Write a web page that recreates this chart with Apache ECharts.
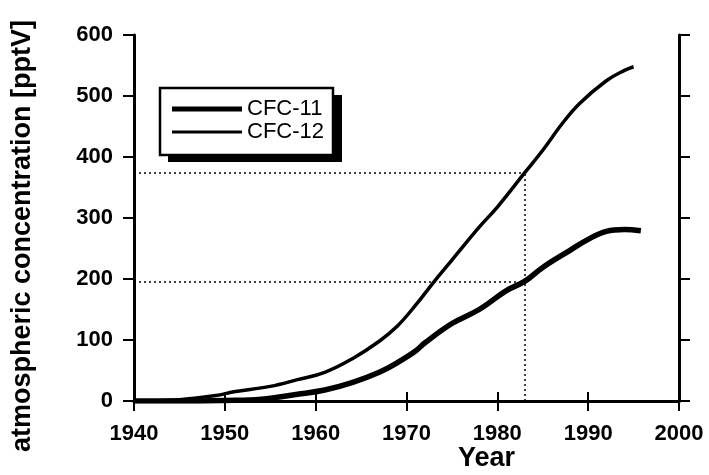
<!DOCTYPE html>
<html>
<head>
<meta charset="utf-8">
<script src="https://cdn.jsdelivr.net/npm/echarts@6/dist/echarts.min.js"></script>
<style>
html,body{margin:0;padding:0;background:#fff;}
#chart{width:709px;height:475px;}
</style>
</head>
<body>
<div id="chart"></div>
<script>
// ---- data ----
const seriesNames = ['CFC-11', 'CFC-12'];
const cfc11Years = [1940, 1945, 1950, 1954, 1958, 1961, 1964, 1967, 1969, 1971, 1972, 1975, 1978, 1981, 1983, 1985, 1988, 1990, 1992, 1994, 1995.8];
const cfc11Values = [0, 0, 1, 3, 11, 18, 30, 47, 63, 82, 95, 127, 150, 181, 196, 219, 247, 265, 278, 281, 279];
const cfc12Years = [1940, 1945, 1949, 1951, 1955, 1958, 1961, 1964, 1967, 1969, 1971, 1973, 1975, 1978, 1980, 1983, 1985, 1987, 1989, 1992, 1994, 1995];
const cfc12Values = [0, 2, 9, 15, 24, 35, 47, 69, 98, 123, 157, 195, 231, 285, 318, 374, 411, 452, 487, 525, 542, 548];
const refYear = 1983;
const refLevels = [375, 195];   // CFC-12, CFC-11 at refYear
const xRange = [1940, 2000];
const yRange = [0, 600];
const xStep = 10;
const yStep = 100;

const pairs = (xs, ys) => xs.map((x, i) => [x, ys[i]]);

const FONT = 'Liberation Sans, Arial, sans-serif';
const AX = { lineStyle: { color: '#000', width: 3 } };
const plain = v => String(v);

const chart = echarts.init(document.getElementById('chart'), null, { renderer: 'canvas' });

const dotted = { color: '#000', width: 1.5, type: [2, 3] };

chart.setOption({
  animation: false,
  backgroundColor: '#fff',
  grid: { left: 134, right: 30, top: 35, bottom: 74, containLabel: false, outerBoundsMode: 'none' },
  graphic: [
    { type: 'rect', z: 1, shape: { x: 168, y: 95, width: 174, height: 67 }, style: { fill: '#000' } },
    { type: 'rect', z: 2, shape: { x: 160, y: 88, width: 173, height: 67 }, style: { fill: '#fff', stroke: '#000', lineWidth: 2.5 } }
  ],
  legend: {
    orient: 'vertical',
    left: 159,
    top: 88,
    padding: [10, 4, 8, 13],
    itemGap: 1,
    itemWidth: 70,
    itemHeight: 6,
    z: 5,
    textStyle: { fontFamily: FONT, fontSize: 22, color: '#000' },
    data: [
      { name: seriesNames[0], icon: 'path://M0 0H70V5H0Z' },
      { name: seriesNames[1], icon: 'path://M0 0H70V3H0Z' }
    ]
  },
  xAxis: [
    {
      type: 'value', min: xRange[0], max: xRange[1], interval: xStep, position: 'bottom',
      axisLine: AX,
      axisTick: { show: true, length: 10, lineStyle: { color: '#000', width: 2 } },
      axisLabel: { margin: 22, color: '#000', fontFamily: FONT, fontSize: 22, fontWeight: 'bold', formatter: plain },
      splitLine: { show: false },
      name: 'Year', nameLocation: 'middle', nameGap: 44, nameMoveOverlap: false,
      nameTextStyle: { fontFamily: FONT, fontSize: 27, fontWeight: 'bold', color: '#000', padding: [0, 0, 0, 160] }
    },
    {
      type: 'value', min: xRange[0], max: xRange[1], interval: xStep, position: 'top',
      axisLine: AX,
      axisTick: { show: true, length: 9, lineStyle: { color: '#000', width: 2 } },
      axisLabel: { show: false },
      splitLine: { show: false }
    }
  ],
  yAxis: [
    {
      type: 'value', min: yRange[0], max: yRange[1], interval: yStep, position: 'left',
      axisLine: { show: true, lineStyle: { color: '#000', width: 3 } },
      axisTick: { show: true, length: 11, lineStyle: { color: '#000', width: 2 } },
      axisLabel: { margin: 21, color: '#000', fontFamily: FONT, fontSize: 22, fontWeight: 'bold', formatter: plain },
      splitLine: { show: false },
      name: 'atmospheric concentration [pptV]', nameLocation: 'middle', nameGap: 98, nameMoveOverlap: false,
      nameTextStyle: { fontFamily: FONT, fontSize: 27, fontWeight: 'bold', color: '#000', padding: [0, 36, 0, 0] }
    },
    {
      type: 'value', min: yRange[0], max: yRange[1], interval: yStep, position: 'right',
      axisLine: { show: true, lineStyle: { color: '#000', width: 3 } },
      axisTick: { show: true, length: 11, lineStyle: { color: '#000', width: 2 } },
      axisLabel: { show: false },
      splitLine: { show: false }
    }
  ],
  series: [
    {
      name: seriesNames[0], type: 'line', smooth: 0.4, showSymbol: false,
      data: pairs(cfc11Years, cfc11Values),
      lineStyle: { color: '#000', width: 5.5 }, itemStyle: { color: '#000' },
      z: 3,
      markLine: {
        silent: true, symbol: 'none', label: { show: false },
        lineStyle: dotted,
        data: [
          [{ coord: [xRange[0], refLevels[0]] }, { coord: [refYear, refLevels[0]] }],
          [{ coord: [xRange[0], refLevels[1]] }, { coord: [refYear, refLevels[1]] }],
          [{ coord: [refYear, yRange[0]] }, { coord: [refYear, refLevels[0]] }]
        ]
      }
    },
    {
      name: seriesNames[1], type: 'line', smooth: 0.4, showSymbol: false,
      data: pairs(cfc12Years, cfc12Values),
      lineStyle: { color: '#000', width: 3.5 }, itemStyle: { color: '#000' },
      z: 3
    }
  ]
});
</script>
</body>
</html>
